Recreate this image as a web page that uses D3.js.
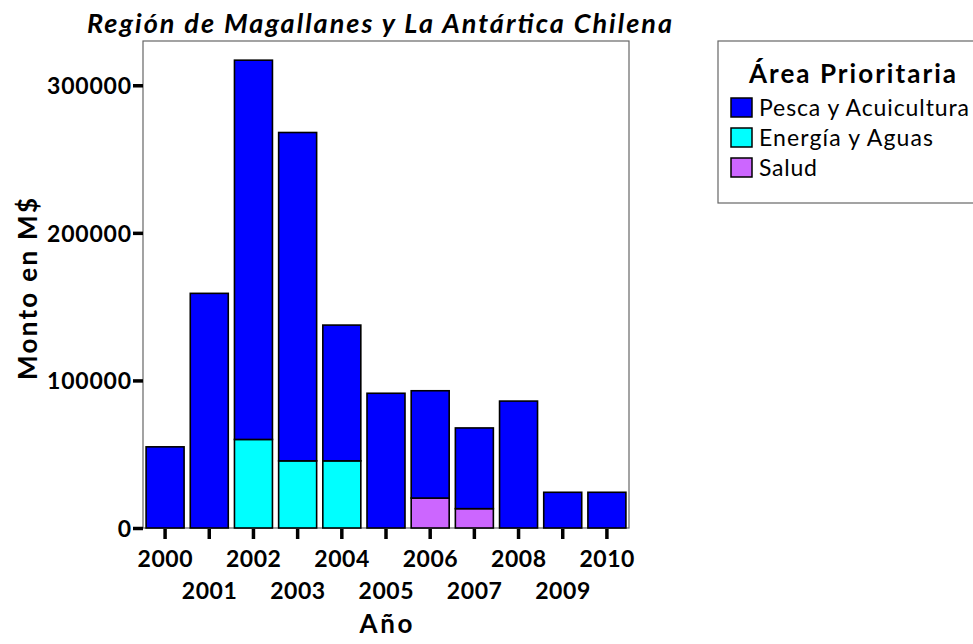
<!DOCTYPE html>
<html>
<head>
<meta charset="utf-8">
<script src="https://cdn.jsdelivr.net/npm/d3@7/dist/d3.min.js"></script>
<style>
  body { margin: 0; background: #fff; }
  svg { font-family: Lato, "DejaVu Sans", sans-serif; }
</style>
</head>
<body>
<div class="chart"></div>
<script>
// data (montos en M$)
var years = ["2000", "2001", "2002", "2003", "2004", "2005", "2006", "2007", "2008", "2009", "2010"];
var pesca = [55000, 159000, 257000, 222500, 92000, 91300, 72700, 54700, 86000, 24200, 24200];
var energia = [0, 0, 60000, 45500, 45500, 0, 0, 0, 0, 0, 0];
var salud = [0, 0, 0, 0, 0, 0, 20300, 13100, 0, 0, 0];
var yTicks = [0, 100000, 200000, 300000];

var seriesKeys = ["energia", "salud", "pesca"];
var seriesNames = { pesca: "Pesca y Acuicultura", energia: "Energía y Aguas", salud: "Salud" };
var colors = { pesca: "#0000ff", energia: "#00ffff", salud: "#cc66ff" };
var legendOrder = ["pesca", "energia", "salud"];
// widths of the legend labels in the original (it spaces letters out)
var legendTextLen = { pesca: 210, energia: 174, salud: 58 };

var svgWidth = 973;
var svgHeight = 644;
var margin = { top: 41, right: 344, bottom: 116, left: 143 };
var width = svgWidth - margin.left - margin.right;
var height = svgHeight - margin.top - margin.bottom;

var rows = years.map(function(y, i) {
  return { year: y, pesca: pesca[i], energia: energia[i], salud: salud[i] };
});

var svg = d3.select(".chart")
  .append("svg")
  .attr("width", svgWidth)
  .attr("height", svgHeight);

var chart = svg.append("g")
  .attr("transform", "translate(" + margin.left + "," + margin.top + ")");

var xScale = d3.scaleBand()
  .domain(years)
  .range([0, width])
  .paddingInner(0.14)
  .paddingOuter(0.07);

var yScale = d3.scaleLinear()
  .domain([0, 330000])
  .range([height, 0]);

// plot frame
chart.append("rect")
  .attr("width", width)
  .attr("height", height)
  .attr("fill", "none")
  .attr("stroke", "#666")
  .attr("stroke-width", 1.2);

var stacked = d3.stack().keys(seriesKeys)(rows);

chart.selectAll(".layer")
  .data(stacked)
  .enter()
  .append("g")
  .attr("class", "layer")
  .attr("fill", function(d) { return colors[d.key]; })
  .selectAll("rect")
  .data(function(d) { return d.filter(function(p) { return p[1] - p[0] > 0; }); })
  .enter()
  .append("rect")
  .attr("x", function(d) { return xScale(d.data.year); })
  .attr("width", xScale.bandwidth())
  .attr("y", function(d) { return yScale(d[1]); })
  .attr("height", function(d) { return yScale(d[0]) - yScale(d[1]); })
  .attr("stroke", "#000")
  .attr("stroke-width", 1.6);

// y axis
var leftAxis = d3.axisLeft(yScale).tickValues(yTicks).tickSize(10).tickPadding(2).tickFormat(d3.format("d"));
var yAxisG = chart.append("g").call(leftAxis);
yAxisG.select(".domain").remove();
yAxisG.selectAll(".tick line").attr("stroke", "#000").attr("stroke-width", 3.5);
yAxisG.selectAll(".tick text")
  .attr("dy", "0.36em")
  .attr("textLength", function(d) { return String(d).length * 14; })
  .attr("lengthAdjust", "spacing")
  .style("font-family", "Lato")
  .style("font-size", "23px")
  .style("font-weight", "bold")
  .attr("fill", "#000");

// x axis, labels staggered on two rows
var bottomAxis = d3.axisBottom(xScale).tickSize(10).tickPadding(0);
var xAxisG = chart.append("g")
  .attr("transform", "translate(0," + (height + 1) + ")")
  .call(bottomAxis);
xAxisG.select(".domain").remove();
xAxisG.selectAll(".tick line").attr("stroke", "#000").attr("stroke-width", 3.5);
xAxisG.selectAll(".tick text")
  .attr("dy", null)
  .attr("y", function(d, i) { return i % 2 === 0 ? 38 : 70; })
  .attr("textLength", 55)
  .attr("lengthAdjust", "spacing")
  .style("font-family", "Lato")
  .style("font-size", "23px")
  .style("font-weight", "bold")
  .attr("fill", "#000");

// title
svg.append("text")
  .attr("x", 379.5)
  .attr("y", 33)
  .attr("text-anchor", "middle")
  .attr("textLength", 585)
  .attr("lengthAdjust", "spacing")
  .style("font-size", "27px")
  .style("font-weight", "bold")
  .style("font-style", "italic")
  .text("Región de Magallanes y La Antártica Chilena");

// axis titles
svg.append("text")
  .attr("x", margin.left + width / 2)
  .attr("y", 633)
  .attr("text-anchor", "middle")
  .attr("textLength", 53)
  .attr("lengthAdjust", "spacing")
  .style("font-size", "26px")
  .style("font-weight", "bold")
  .text("Año");

svg.append("text")
  .attr("transform", "translate(37,289) rotate(-90)")
  .attr("text-anchor", "middle")
  .attr("textLength", 182)
  .attr("lengthAdjust", "spacing")
  .style("font-size", "26px")
  .style("font-weight", "bold")
  .text("Monto en M$");

// legend
var legend = svg.append("g").attr("transform", "translate(718,41)");
legend.append("rect")
  .attr("width", 262)
  .attr("height", 162)
  .attr("fill", "#fff")
  .attr("stroke", "#666")
  .attr("stroke-width", 1.2);
legend.append("text")
  .attr("x", 134.5)
  .attr("y", 42)
  .attr("text-anchor", "middle")
  .attr("textLength", 207)
  .attr("lengthAdjust", "spacing")
  .style("font-size", "26px")
  .style("font-weight", "bold")
  .text("Área Prioritaria");

var items = legend.selectAll(".item")
  .data(legendOrder)
  .enter()
  .append("g")
  .attr("class", "item")
  .attr("transform", function(d, i) { return "translate(13," + (57 + i * 30) + ")"; });
items.append("rect")
  .attr("width", 21)
  .attr("height", 19)
  .attr("fill", function(d) { return colors[d]; })
  .attr("stroke", "#000")
  .attr("stroke-width", 1.5);
items.append("text")
  .attr("x", 28)
  .attr("y", 18)
  .attr("textLength", function(d) { return legendTextLen[d]; })
  .attr("lengthAdjust", "spacing")
  .style("font-size", "23px")
  .text(function(d) { return seriesNames[d]; });
</script>
</body>
</html>
